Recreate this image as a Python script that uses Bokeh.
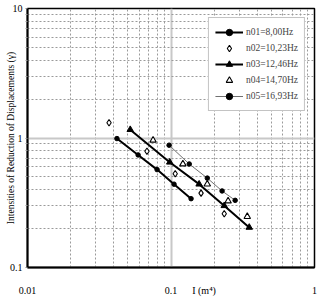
from bokeh.plotting import figure
from bokeh.models import Legend, LegendItem, FixedTicker
from bokeh.embed import file_html
from bokeh.resources import INLINE

# data
n01_x = [0.042, 0.059, 0.080, 0.105, 0.138]
n01_y = [0.99, 0.74, 0.57, 0.44, 0.34]
n02_x = [0.037, 0.068, 0.107, 0.162, 0.235]
n02_y = [1.31, 0.79, 0.53, 0.375, 0.26]
n03_x = [0.052, 0.098, 0.157, 0.235, 0.351]
n03_y = [1.16, 0.65, 0.44, 0.30, 0.204]
n04_x = [0.075, 0.121, 0.179, 0.25, 0.34]
n04_y = [0.96, 0.63, 0.44, 0.326, 0.247]
n05_x = [0.097, 0.134, 0.179, 0.227, 0.28]
n05_y = [0.88, 0.63, 0.49, 0.39, 0.33]
series_labels = ["n01=8,00Hz", "n02=10,23Hz", "n03=12,46Hz", "n04=14,70Hz", "n05=16,93Hz"]
x_ticks = [0.01, 0.1, 1]
x_tick_labels = ["0.01", "0.1", "1"]
y_ticks = [0.1, 1, 10]
y_tick_labels = ["0.1", "1", "10"]
x_title = "I (m\u2074)"
x_title_pos = 0.17
y_title = "Intensities of Reduction of Displacements (\u03b3)"

FONT = "Liberation Serif"

p = figure(width=317, height=298, x_axis_type="log", y_axis_type="log",
           x_range=(0.01, 1), y_range=(0.1, 10),
           output_backend="svg", toolbar_location=None,
           min_border_left=27, min_border_right=3, min_border_top=8, min_border_bottom=25)
p.background_fill_color = "white"
p.border_fill_color = "white"
p.outline_line_color = "black"
p.outline_line_width = 1.5

def minors(ticks):
    out = []
    for t in ticks[:-1]:
        for k in range(2, 10):
            out.append(t * k)
    return out

# x axis: numeric labels plus the axis title placed as a label in the same row
p.xaxis.ticker = FixedTicker(ticks=x_ticks + [x_title_pos], minor_ticks=minors(x_ticks))
x_over = {t: s for t, s in zip(x_ticks, x_tick_labels)}
x_over[x_title_pos] = x_title
p.xaxis.major_label_overrides = x_over
p.xgrid.ticker = FixedTicker(ticks=x_ticks, minor_ticks=minors(x_ticks))

p.yaxis.ticker = FixedTicker(ticks=y_ticks, minor_ticks=minors(y_ticks))
p.yaxis.major_label_overrides = {t: s for t, s in zip(y_ticks, y_tick_labels)}
p.ygrid.ticker = FixedTicker(ticks=y_ticks, minor_ticks=minors(y_ticks))

for ax in (p.xaxis, p.yaxis):
    ax.axis_line_color = "black"
    ax.axis_line_width = 2
    ax.major_label_text_font = FONT
    ax.major_label_text_font_size = "10px"
    ax.major_label_text_color = "black"

p.xaxis.major_tick_line_color = None
p.xaxis.minor_tick_line_color = None
p.xaxis.major_label_standoff = 11

p.yaxis.axis_label = y_title
p.yaxis.axis_label_text_font = FONT
p.yaxis.axis_label_text_font_size = "9.5px"
p.yaxis.axis_label_text_font_style = "normal"
p.yaxis.axis_label_text_color = "black"
p.yaxis.axis_label_standoff = -9
p.yaxis.major_tick_out = 2
p.yaxis.major_tick_in = 0
p.yaxis.minor_tick_out = 2
p.yaxis.minor_tick_in = 0
p.yaxis.major_tick_line_color = "#888888"
p.yaxis.minor_tick_line_color = "#999999"
p.yaxis.major_label_standoff = 3

for g in (p.xgrid, p.ygrid):
    g.grid_line_color = "#c8c8c8"
    g.grid_line_width = 2
    g.minor_grid_line_color = "#9a9a9a"
    g.minor_grid_line_width = 1
    g.minor_grid_line_dash = "2 2"

r1l = p.line(n01_x, n01_y, line_color="black", line_width=2)
r1m = p.scatter(n01_x, n01_y, marker="circle", size=4.5, fill_color="black", line_color="black")
r2d = p.line([], [], line_color="black", line_width=1)
r2m = p.scatter(n02_x, n02_y, marker="diamond", size=6.5, fill_color="white", line_color="black", line_width=1.1)
r3l = p.line(n03_x, n03_y, line_color="black", line_width=2)
r3m = p.scatter(n03_x, n03_y, marker="triangle", size=6.5, fill_color="black", line_color="black")
r4m = p.scatter(n04_x, n04_y, marker="triangle", size=6.5, fill_color="white", line_color="black", line_width=1.1)
r5l = p.line(n05_x, n05_y, line_color="#707070", line_width=1)
r5m = p.scatter(n05_x, n05_y, marker="circle", size=4.5, fill_color="black", line_color="black")

legend = Legend(items=[
    LegendItem(label=series_labels[0], renderers=[r1l, r1m]),
    LegendItem(label=series_labels[1], renderers=[r2d, r2m]),
    LegendItem(label=series_labels[2], renderers=[r3l, r3m]),
    LegendItem(label=series_labels[3], renderers=[r4m]),
    LegendItem(label=series_labels[4], renderers=[r5l, r5m]),
], location="top_right")
legend.margin = 9
legend.padding = 6
legend.spacing = 0
legend.glyph_width = 28
legend.glyph_height = 16
legend.label_height = 16
legend.label_standoff = 3
legend.label_text_font = FONT
legend.label_text_font_size = "9.5px"
legend.border_line_color = "#888888"
legend.border_line_width = 1
legend.background_fill_color = "white"
legend.background_fill_alpha = 1
p.add_layout(legend)

open("out.html", "w").write(file_html(p, INLINE))
